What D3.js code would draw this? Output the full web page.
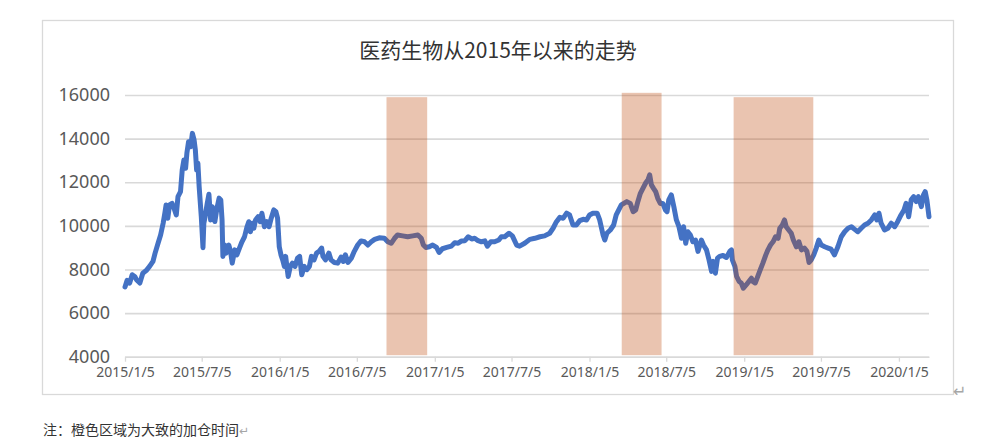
<!DOCTYPE html>
<html>
<head>
<meta charset="utf-8">
<script src="https://cdn.jsdelivr.net/npm/d3@7"></script>
<style>
  body { margin: 0; background: #fff; }
  svg { display: block; }
</style>
</head>
<body>
<svg id="chart" width="994" height="446"></svg>
<script>

// title + footnote
var chartTitle = "医药生物从2015年以来的走势";
var noteText = "注：橙色区域为大致的加仓时间";

// axis ticks
var yTicks = [4000, 6000, 8000, 10000, 12000, 14000, 16000];
var xTicks = ["2015-01-05", "2015-07-05", "2016-01-05", "2016-07-05", "2017-01-05", "2017-07-05",
              "2018-01-05", "2018-07-05", "2019-01-05", "2019-07-05", "2020-01-05"];

// index level (roughly weekly)
var dates = [
  "2015-01-05","2015-01-10","2015-01-16","2015-01-22","2015-01-28","2015-02-01","2015-02-09","2015-02-16","2015-02-24","2015-03-04",
  "2015-03-12","2015-03-17","2015-03-24","2015-03-30","2015-04-05","2015-04-09","2015-04-12","2015-04-16","2015-04-20","2015-04-26",
  "2015-05-02","2015-05-06","2015-05-10","2015-05-16","2015-05-20","2015-05-24","2015-05-28","2015-05-31","2015-06-04","2015-06-09",
  "2015-06-13","2015-06-17","2015-06-20","2015-06-23","2015-06-26","2015-06-29","2015-07-04","2015-07-08","2015-07-10","2015-07-13",
  "2015-07-18","2015-07-22","2015-07-26","2015-07-30","2015-08-05","2015-08-10","2015-08-15","2015-08-19","2015-08-22","2015-08-24",
  "2015-08-28","2015-09-01","2015-09-07","2015-09-11","2015-09-15","2015-09-21","2015-09-26","2015-10-02","2015-10-08","2015-10-14",
  "2015-10-20","2015-10-24","2015-10-28","2015-11-01","2015-11-05","2015-11-09","2015-11-15","2015-11-20","2015-11-24","2015-11-30",
  "2015-12-06","2015-12-11","2015-12-16","2015-12-22","2015-12-27","2015-12-31","2016-01-04","2016-01-08","2016-01-12","2016-01-16",
  "2016-01-19","2016-01-25","2016-01-30","2016-02-04","2016-02-10","2016-02-16","2016-02-21","2016-02-26","2016-03-03","2016-03-09",
  "2016-03-15","2016-03-20","2016-03-26","2016-04-01","2016-04-07","2016-04-13","2016-04-16","2016-04-22","2016-04-30","2016-05-05",
  "2016-05-13","2016-05-21","2016-05-29","2016-06-03","2016-06-08","2016-06-14","2016-06-22","2016-06-29","2016-07-07","2016-07-15",
  "2016-07-23","2016-07-31","2016-08-08","2016-08-16","2016-08-27","2016-09-08","2016-09-16","2016-09-24","2016-10-02","2016-10-09",
  "2016-10-21","2016-11-02","2016-11-14","2016-11-26","2016-12-04","2016-12-09","2016-12-15","2016-12-23","2016-12-31","2017-01-09",
  "2017-01-15","2017-01-23","2017-02-02","2017-02-13","2017-02-21","2017-03-01","2017-03-09","2017-03-17","2017-03-25","2017-04-02",
  "2017-04-09","2017-04-17","2017-04-25","2017-05-03","2017-05-09","2017-05-17","2017-05-26","2017-06-05","2017-06-11","2017-06-19",
  "2017-06-29","2017-07-07","2017-07-17","2017-07-24","2017-08-05","2017-08-17","2017-08-29","2017-09-10","2017-09-21","2017-10-03",
  "2017-10-11","2017-10-19","2017-10-27","2017-11-04","2017-11-12","2017-11-19","2017-11-27","2017-12-05","2017-12-13","2017-12-21",
  "2017-12-29","2018-01-05","2018-01-13","2018-01-23","2018-01-29","2018-02-06","2018-02-10","2018-02-15","2018-02-23","2018-03-03",
  "2018-03-09","2018-03-15","2018-03-21","2018-03-27","2018-04-03","2018-04-11","2018-04-18","2018-04-24","2018-04-29","2018-05-05",
  "2018-05-11","2018-05-17","2018-05-23","2018-05-27","2018-05-31","2018-06-05","2018-06-10","2018-06-15","2018-06-21","2018-06-27",
  "2018-07-03","2018-07-07","2018-07-11","2018-07-17","2018-07-23","2018-07-29","2018-08-04","2018-08-10","2018-08-15","2018-08-20",
  "2018-08-25","2018-08-31","2018-09-06","2018-09-12","2018-09-18","2018-09-26","2018-10-01","2018-10-08","2018-10-14","2018-10-20",
  "2018-10-24","2018-10-29","2018-11-03","2018-11-08","2018-11-16","2018-11-24","2018-12-02","2018-12-06","2018-12-08","2018-12-14",
  "2018-12-18","2018-12-24","2018-12-29","2019-01-03","2019-01-10","2019-01-16","2019-01-22","2019-01-25","2019-01-31","2019-02-06",
  "2019-02-12","2019-02-18","2019-02-25","2019-03-02","2019-03-08","2019-03-14","2019-03-20","2019-03-26","2019-03-30","2019-04-05",
  "2019-04-10","2019-04-14","2019-04-20","2019-04-26","2019-05-01","2019-05-08","2019-05-14","2019-05-20","2019-05-27","2019-06-02",
  "2019-06-07","2019-06-12","2019-06-18","2019-06-24","2019-06-30","2019-07-06","2019-07-14","2019-07-22","2019-07-29","2019-08-06",
  "2019-08-14","2019-08-22","2019-08-30","2019-09-07","2019-09-15","2019-09-22","2019-09-30","2019-10-08","2019-10-16","2019-10-24",
  "2019-11-01","2019-11-09","2019-11-14","2019-11-19","2019-11-24","2019-12-02","2019-12-10","2019-12-18","2019-12-26","2020-01-02",
  "2020-01-10","2020-01-17","2020-01-22","2020-01-28","2020-02-03","2020-02-09","2020-02-15","2020-02-20","2020-02-27","2020-03-03",
  "2020-03-07","2020-03-11","2020-03-16"
];
var values = [
  7200, 7500, 7380, 7760, 7680, 7530, 7380, 7830, 7950, 8140,
  8370, 8750, 9200, 9580, 10120, 10580, 10960, 10350, 10960, 11030,
  10730, 10500, 11340, 11570, 12560, 13020, 12640, 13330, 13860, 13630,
  14240, 13940, 13480, 12560, 12870, 11790, 10420, 9000, 10120, 10420,
  11030, 11450, 10270, 10880, 10200, 10810, 11270, 11190, 10270, 8600,
  9120, 8750, 9120, 8830, 8290, 8900, 8670, 8980, 9270, 9500,
  9960, 10190, 9730, 10120, 9890, 10270, 10420, 10190, 10580, 9960,
  10190, 9960, 10350, 10730, 10650, 10350, 9040, 8670, 8440, 8140,
  8600, 7680, 8140, 8290, 8140, 8520, 8600, 7760, 8140, 7990,
  8140, 8600, 8440, 8750, 8830, 8980, 8600, 8440, 8750, 8440,
  8320, 8290, 8570, 8370, 8670, 8320, 8520, 8830, 9120, 9310,
  9270, 9120, 9270, 9380, 9450, 9430, 9270, 9200, 9430, 9580,
  9540, 9500, 9540, 9580, 9430, 9120, 9010, 9040, 9120, 9010,
  8780, 8950, 9010, 9070, 9230, 9200, 9310, 9320, 9500, 9400,
  9430, 9320, 9270, 9310, 9070, 9270, 9270, 9350, 9500, 9500,
  9660, 9540, 9120, 9070, 9200, 9380, 9430, 9500, 9540, 9660,
  9890, 10190, 10390, 10350, 10580, 10500, 10040, 10040, 10240, 10300,
  10270, 10500, 10580, 10580, 10270, 9580, 9350, 9660, 9810, 10040,
  10500, 10730, 10960, 11030, 11110, 11030, 10650, 10730, 11110, 11490,
  11720, 11950, 12110, 12340, 11880, 11720, 11570, 11260, 11030, 11030,
  10730, 10650, 11190, 11420, 10880, 10270, 9960, 9430, 9960, 9200,
  9730, 9580, 9270, 9350, 8830, 9350, 9120, 8900, 8440, 7910,
  8370, 7830, 8520, 8600, 8640, 8550, 8830, 8900, 8440, 8140,
  7680, 7450, 7380, 7140, 7300, 7450, 7600, 7450, 7380, 7680,
  7990, 8290, 8670, 8900, 9120, 9270, 9500, 9430, 9890, 10040,
  10270, 9960, 9810, 9660, 9350, 9040, 9270, 8900, 8980, 8830,
  8320, 8440, 8670, 8980, 9350, 9120, 9040, 8980, 8930, 8670,
  9040, 9500, 9730, 9890, 9960, 9850, 9730, 9890, 10040, 10120,
  10270, 10500, 10270, 10580, 10120, 9810, 9890, 10120, 9960, 10190,
  10500, 10730, 11030, 10420, 11190, 11340, 11110, 11340, 10880, 11420,
  11570, 11190, 10420
];

// orange "adding position" periods
var bandStart = ["2016-09-13", "2018-03-22", "2018-12-11"];
var bandEnd   = ["2016-12-18", "2018-06-24", "2019-06-17"];
var bandTop   = [15900, 16100, 15900];

var parse = d3.timeParse("%Y-%m-%d");
var data = dates.map(function(d, i) { return {date: parse(d), value: values[i]}; });
var bands = bandStart.map(function(d, i) {
  return {start: parse(d), end: parse(bandEnd[i]), top: bandTop[i]};
});

var svg = d3.select("#chart");

var plot = {left: 125, right: 929, top: 95, bottom: 356.7};

var x = d3.scaleTime()
  .domain([data[0].date, data[data.length - 1].date])
  .range([plot.left, plot.right]);

var y = d3.scaleLinear()
  .domain([4000, 16000])
  .range([plot.bottom, plot.top]);

var textColor = "#595959";
var gridColor = "#d9d9d9";

// chart frame
svg.append("rect")
  .attr("x", 42.5).attr("y", 20.5)
  .attr("width", 911).attr("height", 374)
  .attr("fill", "#fff")
  .attr("stroke", gridColor)
  .attr("stroke-width", 1.3);

// title
svg.append("text")
  .attr("x", 498)
  .attr("y", 58)
  .attr("text-anchor", "middle")
  .attr("font-family", "'Noto Sans CJK SC', sans-serif")
  .attr("font-size", "21px")
  .attr("fill", "#333")
  .text(chartTitle);

// y axis -> only gridlines + labels
var yAxis = svg.append("g")
  .attr("transform", "translate(" + plot.left + ",0)")
  .call(d3.axisLeft(y).tickValues(yTicks).tickSize(-(plot.right - plot.left)).tickPadding(15).tickFormat(d3.format("d")));
yAxis.select(".domain").remove();
yAxis.selectAll("line").attr("stroke", gridColor).attr("stroke-width", 1.6);
yAxis.selectAll("text")
  .attr("font-family", "'Noto Sans', sans-serif")
  .attr("font-size", "18px")
  .attr("fill", textColor);

// x axis
var xAxis = svg.append("g")
  .attr("transform", "translate(0," + plot.bottom + ")")
  .call(d3.axisBottom(x)
    .tickValues(xTicks.map(parse))
    .tickFormat(d3.timeFormat("%Y/%-m/%-d"))
    .tickSize(5)
    .tickSizeOuter(0)
    .tickPadding(5));
xAxis.select(".domain").attr("stroke", gridColor).attr("stroke-width", 1.6);
xAxis.selectAll("line").attr("stroke", gridColor).attr("stroke-width", 1.3);
xAxis.selectAll("text")
  .attr("font-family", "'Noto Sans', sans-serif")
  .attr("font-size", "14px")
  .attr("fill", textColor);

// the index line
var line = d3.line()
  .x(function(d) { return x(d.date); })
  .y(function(d) { return y(d.value); });

svg.append("path")
  .datum(data)
  .attr("d", line)
  .attr("fill", "none")
  .attr("stroke", "#4472c4")
  .attr("stroke-width", 5)
  .attr("stroke-linejoin", "round")
  .attr("stroke-linecap", "round");

// shaded periods sit on top, semi transparent (line shows through greyish)
svg.selectAll(".band")
  .data(bands)
  .enter()
  .append("rect")
    .attr("class", "band")
    .attr("x", function(d) { return x(d.start); })
    .attr("y", function(d) { return y(d.top); })
    .attr("width", function(d) { return x(d.end) - x(d.start); })
    .attr("height", function(d) { return y(4000) - y(d.top) - 1.5; })
    .attr("fill", "rgb(190,70,10)")
    .attr("fill-opacity", 0.32);

// word paragraph marks
svg.append("text")
  .attr("x", 953).attr("y", 397)
  .attr("font-family", "'DejaVu Sans', sans-serif")
  .attr("font-size", "16px")
  .attr("fill", "#a6a6a6")
  .text("\u21b5");

// footnote
var note = svg.append("text")
  .attr("x", 43).attr("y", 435)
  .attr("font-family", "'Noto Sans CJK SC', sans-serif")
  .attr("font-size", "14px")
  .attr("fill", "#333");
note.append("tspan").text(noteText);
note.append("tspan")
  .attr("font-family", "'DejaVu Sans', sans-serif")
  .attr("font-size", "12px")
  .attr("fill", "#a6a6a6")
  .text("\u21b5");

</script>
</body>
</html>
